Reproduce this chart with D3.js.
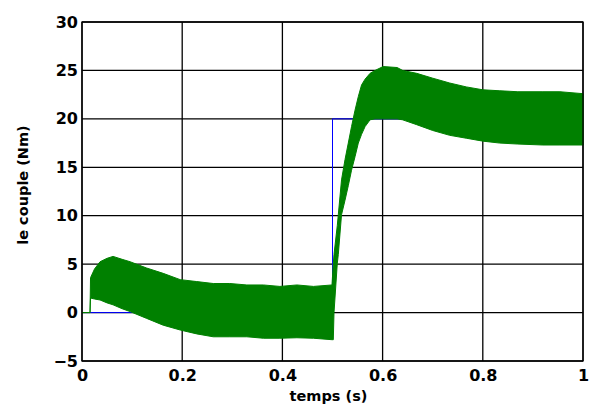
<!DOCTYPE html>
<html>
<head>
<meta charset="utf-8">
<script src="https://cdn.jsdelivr.net/npm/d3@7"></script>
<style>
  body { margin: 0; background: #fff; }
  text { font-family: "DejaVu Sans", Verdana, sans-serif; font-weight: bold; fill: #000; }
</style>
</head>
<body>
<div id="chart"></div>
<script>
// couple electromagnetique : enveloppe haute / basse
var temps = [0, 0.016, 0.017, 0.025, 0.036, 0.05, 0.062, 0.08, 0.096, 0.129, 0.162, 0.196, 0.229,
             0.262, 0.295, 0.329, 0.362, 0.395, 0.429, 0.462, 0.499, 0.5016, 0.503, 0.5096, 0.5116,
             0.518, 0.525, 0.5315, 0.538, 0.545, 0.5515, 0.558, 0.565, 0.575, 0.585, 0.601, 0.629,
             0.64, 0.668, 0.70, 0.734, 0.767, 0.80, 0.834, 0.87, 0.92, 0.954, 1.0];
var coupleHaut = [0, 0, 3.6, 4.5, 5.25, 5.6, 5.8, 5.5, 5.25, 4.6, 4.05, 3.4, 3.2,
                  3.0, 3.0, 2.85, 2.85, 2.7, 2.85, 2.7, 2.85, 5.1, 6.0, 9.0, 10.1,
                  13.7, 15.8, 17.5, 19.2, 20.9, 22.3, 23.5, 24.1, 24.7, 25.0, 25.4, 25.3,
                  25.0, 24.7, 24.2, 23.7, 23.3, 23.0, 22.9, 22.8, 22.8, 22.8, 22.6];
var coupleBas = [0, 0, 1.5, 1.4, 1.3, 1.0, 0.8, 0.4, 0.1, -0.6, -1.3, -1.8, -2.2,
                 -2.5, -2.5, -2.5, -2.65, -2.65, -2.6, -2.65, -2.8, -2.8, 0.0, 5.1, 6.0,
                 10.1, 11.6, 13.1, 14.7, 16.1, 17.5, 18.4, 19.2, 19.9, 20.0, 20.0, 20.0,
                 19.9, 19.4, 18.8, 18.3, 18.0, 17.7, 17.5, 17.4, 17.3, 17.3, 17.3];

// couple de reference (echelon)
var tempsRef = [0, 0.5, 0.5, 1];
var coupleRef = [0, 0, 20, 20];

var xTicks = [0, 0.2, 0.4, 0.6, 0.8, 1];
var xLabels = ["0", "0.2", "0.4", "0.6", "0.8", "1"];
var yTicks = [-5, 0, 5, 10, 15, 20, 25, 30];

var W = 596, H = 406;
var margin = {top: 22, right: 13, bottom: 45, left: 82};
var width = W - margin.left - margin.right;
var height = H - margin.top - margin.bottom;

var x = d3.scaleLinear().domain([0, 1]).range([0, width]);
var y = d3.scaleLinear().domain([-5, 30]).range([height, 0]);

var svg = d3.select("#chart").append("svg")
    .attr("width", W)
    .attr("height", H)
  .append("g")
    .attr("transform", "translate(" + margin.left + "," + margin.top + ")");

// grille
svg.selectAll(".gx").data(xTicks).enter().append("line")
    .attr("x1", d => x(d)).attr("x2", d => x(d))
    .attr("y1", 0).attr("y2", height)
    .attr("stroke", "#000").attr("stroke-width", 1.3);
svg.selectAll(".gy").data(yTicks).enter().append("line")
    .attr("x1", 0).attr("x2", width)
    .attr("y1", d => y(d)).attr("y2", d => y(d))
    .attr("stroke", "#000").attr("stroke-width", 1.3);

// reference
var refData = tempsRef.map((t, i) => [t, coupleRef[i]]);
svg.append("path")
    .datum(refData)
    .attr("fill", "none")
    .attr("stroke", "#0000ff")
    .attr("stroke-width", 1)
    .attr("d", d3.line().x(d => x(d[0])).y(d => y(d[1])));

// couple mesure
var env = temps.map((t, i) => ({t: t, hi: coupleHaut[i], lo: coupleBas[i]}));
svg.append("path")
    .datum(env)
    .attr("fill", "#008000")
    .attr("stroke", "#008000")
    .attr("stroke-width", 1)
    .attr("d", d3.area().x(d => x(d.t)).y0(d => y(d.lo)).y1(d => y(d.hi)));

// cadre
svg.append("rect")
    .attr("width", width).attr("height", height)
    .attr("fill", "none").attr("stroke", "#000").attr("stroke-width", 1.3);

// axes
var ax = svg.append("g")
    .attr("transform", "translate(0," + height + ")")
    .call(d3.axisBottom(x).tickValues(xTicks).tickSize(0).tickPadding(9)
      .tickFormat((d, i) => xLabels[i]));
var ay = svg.append("g")
    .call(d3.axisLeft(y).tickValues(yTicks).tickSize(0).tickPadding(4));
[ax, ay].forEach(function(g) {
  g.select(".domain").remove();
  g.selectAll("text").style("font-size", "16px")
    .style("font-family", '"DejaVu Sans", Verdana, sans-serif').style("font-weight", "bold");
});

svg.append("text")
    .attr("x", width / 2 - 4)
    .attr("y", height + 40)
    .attr("text-anchor", "middle")
    .style("font-size", "14.5px")
    .text("temps (s)");

svg.append("text")
    .attr("transform", "rotate(-90)")
    .attr("x", -(185 - margin.top))
    .attr("y", 28 - margin.left)
    .attr("text-anchor", "middle")
    .style("font-size", "14.5px")
    .text("le couple (Nm)");
</script>
</body>
</html>
